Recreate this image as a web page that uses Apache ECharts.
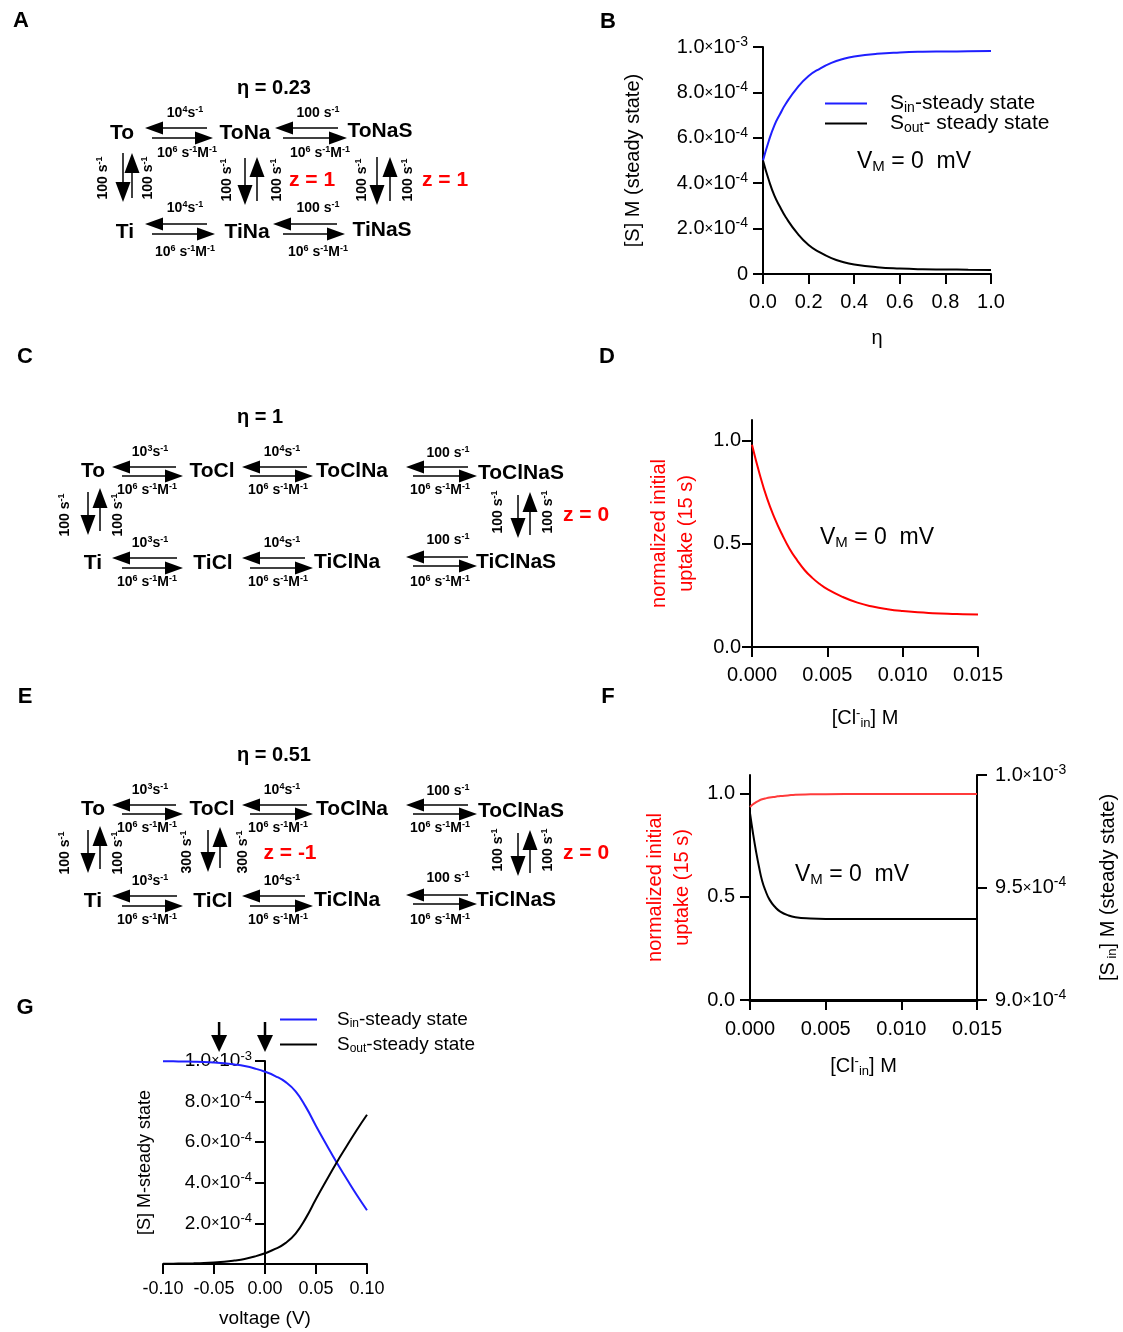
<!DOCTYPE html>
<html>
<head>
<meta charset="utf-8">
<script src="https://cdn.jsdelivr.net/npm/echarts@6/dist/echarts.min.js"></script>
<style>
  html, body { margin: 0; padding: 0; background: #fff; }
  #fig { width: 1123px; height: 1332px; }
</style>
</head>
<body>
<div id="fig"></div>
<script>
var FONT = '"Liberation Sans", Arial, Helvetica, sans-serif';

// ---- panel B : steady state [S] vs eta
var etaB = [0, 0.025, 0.05, 0.075, 0.1, 0.15, 0.2, 0.25, 0.3, 0.35, 0.4, 0.5, 0.6, 0.7, 0.8, 0.9, 1.0];
var sInB = [5.00e-4, 5.85e-4, 6.55e-4, 7.05e-4, 7.50e-4, 8.20e-4, 8.72e-4, 9.05e-4, 9.30e-4, 9.47e-4, 9.58e-4, 9.70e-4, 9.76e-4, 9.79e-4, 9.80e-4, 9.81e-4, 9.82e-4];
var sOutB = [5.00e-4, 4.15e-4, 3.45e-4, 2.95e-4, 2.50e-4, 1.80e-4, 1.28e-4, 0.95e-4, 0.70e-4, 0.53e-4, 0.42e-4, 0.30e-4, 0.24e-4, 0.21e-4, 0.20e-4, 0.19e-4, 0.18e-4];

// ---- panel D : normalized uptake vs [Cl-in]
var clD = [0, 0.0005, 0.001, 0.0015, 0.002, 0.0025, 0.003, 0.0035, 0.004, 0.0045, 0.005, 0.006, 0.007, 0.008, 0.009, 0.010, 0.011, 0.012, 0.013, 0.014, 0.015];
var uptakeD = [0.98, 0.84, 0.72, 0.625, 0.545, 0.475, 0.42, 0.372, 0.335, 0.305, 0.28, 0.243, 0.215, 0.196, 0.183, 0.174, 0.168, 0.164, 0.161, 0.159, 0.157];

// ---- panel F : uptake (left) and S_in (right) vs [Cl-in]
var clF = [0, 0.0002, 0.0004, 0.0006, 0.0008, 0.001, 0.0013, 0.0017, 0.002, 0.0025, 0.003, 0.004, 0.005, 0.0075, 0.01, 0.0125, 0.015];
var uptakeF = [0.937, 0.950, 0.960, 0.968, 0.974, 0.978, 0.983, 0.987, 0.990, 0.993, 0.996, 0.998, 0.999, 1.0, 1.0, 1.0, 1.0];
var sInF = [9.83e-4, 9.74e-4, 9.66e-4, 9.59e-4, 9.53e-4, 9.49e-4, 9.445e-4, 9.41e-4, 9.393e-4, 9.377e-4, 9.368e-4, 9.362e-4, 9.36e-4, 9.36e-4, 9.36e-4, 9.36e-4, 9.36e-4];

// ---- panel G : steady state [S] vs voltage
var voltG = [-0.10, -0.09, -0.08, -0.07, -0.06, -0.05, -0.04, -0.03, -0.02, -0.01, 0, 0.01, 0.02, 0.03, 0.04, 0.05, 0.06, 0.07, 0.08, 0.09, 0.10];
var sInG = [9.99e-4, 9.985e-4, 9.975e-4, 9.965e-4, 9.95e-4, 9.925e-4, 9.89e-4, 9.83e-4, 9.75e-4, 9.63e-4, 9.47e-4, 9.26e-4, 8.97e-4, 8.50e-4, 7.74e-4, 6.80e-4, 5.90e-4, 5.02e-4, 4.20e-4, 3.40e-4, 2.65e-4];
var sOutG = [0.01e-4, 0.015e-4, 0.025e-4, 0.035e-4, 0.05e-4, 0.075e-4, 0.11e-4, 0.17e-4, 0.25e-4, 0.37e-4, 0.53e-4, 0.74e-4, 1.03e-4, 1.50e-4, 2.26e-4, 3.20e-4, 4.10e-4, 4.98e-4, 5.80e-4, 6.60e-4, 7.35e-4];
var arrowVoltG = [-0.045, 0];

// rate constant labels
var R_K4 = '{n|10}{sup|4}{n|s}{sup|-1}';
var R_K3 = '{n|10}{sup|3}{n|s}{sup|-1}';
var R_100 = '{n|100 s}{sup|-1}';
var R_300 = '{n|300 s}{sup|-1}';
var R_ON = '{n|10}{sup|6}{n| s}{sup|-1}{n|M}{sup|-1}';
var RFS = 14;

function pairs(xs, ys) {
    return xs.map(function (x, i) { return [x, ys[i]]; });
}

// rich styles usable by both graphic (fill) and options (color)
function rs(fs, bold, color) {
    color = color || '#000';
    var w = bold ? 'bold' : 'normal';
    var sfs = Math.round(fs * 0.65);
    function st(size, pad) {
        var o = { fontSize: size, fontFamily: FONT, fontWeight: w, color: color, fill: color };
        if (pad) o.padding = pad;
        return o;
    }
    return {
        n: st(fs),
        sup: st(sfs, [0, 0, Math.round(fs * 0.5), 0]),
        sub: st(sfs, [Math.round(fs * 0.45), 0, 0, 0]),
        x: st(Math.round(fs * 0.75)),
        s: st(Math.round(fs * 0.7), [0, 0, Math.round(fs * 0.5), 0])
    };
}

// ---- graphic elements (schemes, annotations)
var g = [];

function T(x, y, text, fs, o) {
    o = o || {};
    var color = o.color || '#000';
    var bold = o.bold !== false;
    var al = o.align || 'center';
    g.push({
        type: 'text', x: x, y: y, rotation: o.rot || 0, silent: true,
        style: {
            text: text, rich: rs(fs, bold, color), fill: color,
            fontSize: fs, fontFamily: FONT, fontWeight: bold ? 'bold' : 'normal',
            align: al, textAlign: al, verticalAlign: 'middle', textVerticalAlign: 'middle'
        }
    });
}

function arrow(x1, y1, x2, y2, head, half, lw) {
    var dx = x2 - x1, dy = y2 - y1;
    var L = Math.sqrt(dx * dx + dy * dy), ux = dx / L, uy = dy / L;
    var bx = x2 - ux * head, by = y2 - uy * head;
    g.push({ type: 'line', silent: true, shape: { x1: x1, y1: y1, x2: bx + ux, y2: by + uy }, style: { stroke: '#000', lineWidth: lw || 1.5 } });
    g.push({
        type: 'polygon', silent: true,
        shape: { points: [[x2, y2], [bx - uy * half, by + ux * half], [bx + uy * half, by - ux * half]] },
        style: { fill: '#000' }
    });
}
function hL(xTail, xTip, y) { arrow(xTail, y, xTip, y, 18, 6.5); }
function vA(x, yTail, yTip) { arrow(x, yTail, x, yTip, 20, 7.5); }
function rot(x, y, s) { T(x, y, s, RFS, { rot: Math.PI / 2 }); }

// panel letters
T(21, 21, 'A', 22); T(608, 22, 'B', 22); T(25, 357, 'C', 22); T(607, 357, 'D', 22);
T(25, 697, 'E', 22); T(608, 697, 'F', 22); T(25, 1008, 'G', 22);

// ---- scheme A
T(237, 88, 'η = 0.23', 20, { align: 'left' });
T(122, 133, 'To', 21); T(245, 133, 'ToNa', 21); T(380, 131, 'ToNaS', 21);
T(125, 232, 'Ti', 21); T(247, 232, 'TiNa', 21); T(382, 230, 'TiNaS', 21);
hL(207, 145, 128); hL(152, 213, 138); hL(338, 275, 128); hL(283, 347, 138);
hL(207, 145, 224); hL(152, 215, 234); hL(337, 273, 224); hL(283, 345, 234);
T(185, 113, R_K4, RFS); T(187, 153, R_ON, RFS); T(318, 113, R_100, RFS); T(320, 153, R_ON, RFS);
T(185, 208, R_K4, RFS); T(185, 252, R_ON, RFS); T(318, 208, R_100, RFS); T(318, 252, R_ON, RFS);
vA(123, 153, 202); vA(132, 198, 153);
vA(245, 158, 205); vA(257, 201, 157);
vA(377, 157, 205); vA(390, 201, 157);
rot(103, 178, R_100); rot(148, 178, R_100);
rot(227, 180, R_100); rot(277, 180, R_100);
rot(362, 180, R_100); rot(408, 180, R_100);
T(312, 180, 'z = 1', 21, { color: '#ff0000' });
T(445, 180, 'z = 1', 21, { color: '#ff0000' });

// ---- schemes C and E (same layout, shifted)
function schemeCl(dy, etaText) {
    T(237, 417 + dy, etaText, 20, { align: 'left' });
    T(93, 471 + dy, 'To', 21); T(212, 471 + dy, 'ToCl', 21); T(352, 471 + dy, 'ToClNa', 21); T(521, 473 + dy, 'ToClNaS', 21);
    T(93, 563 + dy, 'Ti', 21); T(213, 563 + dy, 'TiCl', 21); T(347, 562 + dy, 'TiClNa', 21); T(516, 562 + dy, 'TiClNaS', 21);
    hL(176, 112, 467 + dy); hL(122, 183, 476 + dy);
    hL(307, 242, 467 + dy); hL(250, 313, 476 + dy);
    hL(468, 406, 467 + dy); hL(413, 477, 476 + dy);
    hL(177, 112, 558 + dy); hL(122, 183, 568 + dy);
    hL(305, 242, 558 + dy); hL(250, 313, 568 + dy);
    hL(468, 406, 557 + dy); hL(413, 477, 566 + dy);
    T(150, 452 + dy, R_K3, RFS); T(147, 490 + dy, R_ON, RFS);
    T(282, 452 + dy, R_K4, RFS); T(278, 490 + dy, R_ON, RFS);
    T(448, 453 + dy, R_100, RFS); T(440, 490 + dy, R_ON, RFS);
    T(150, 543 + dy, R_K3, RFS); T(147, 582 + dy, R_ON, RFS);
    T(282, 543 + dy, R_K4, RFS); T(278, 582 + dy, R_ON, RFS);
    T(448, 540 + dy, R_100, RFS); T(440, 582 + dy, R_ON, RFS);
    vA(88, 492 + dy, 535 + dy); vA(100, 531 + dy, 488 + dy);
    rot(65, 515 + dy, R_100); rot(118, 515 + dy, R_100);
    vA(518, 495 + dy, 538 + dy); vA(530, 535 + dy, 492 + dy);
    rot(498, 512 + dy, R_100); rot(548, 512 + dy, R_100);
    T(586, 515 + dy, 'z = 0', 21, { color: '#ff0000' });
}
schemeCl(0, 'η = 1');
schemeCl(338, 'η = 0.51');
vA(208, 830, 872); vA(220, 868, 827);
rot(187, 852, R_300); rot(243, 852, R_300);
T(290, 853, 'z = -1', 21, { color: '#ff0000' });

// ---- V_M annotations
var VM = '{n|V}{sub|M}{n| = 0  mV}';
T(857, 162, VM, 23, { bold: false, align: 'left' });
T(820, 538, VM, 23, { bold: false, align: 'left' });
T(795, 875, VM, 23, { bold: false, align: 'left' });

var chart = echarts.init(document.getElementById('fig'), null, { renderer: 'canvas' });

// ---- axes helpers
function aLine(w) { return { show: true, onZero: false, lineStyle: { color: '#000', width: w || 2 } }; }
function aTick(len) { return { show: true, length: len || 10, lineStyle: { color: '#000', width: 2 } }; }
function sci(zeroText) {
    return function (v) {
        if (Math.abs(v) < 1e-12) return zeroText;
        var e = Math.floor(Math.log10(v) + 1e-9);
        var m = v / Math.pow(10, e);
        return '{n|' + m.toFixed(1) + '}{x|×}{n|10}{s|' + e + '}';
    };
}
function nameStyle(fs, color, rich, lh) {
    var o = { fontSize: fs, color: color || '#000', fontFamily: FONT };
    if (rich) o.rich = rich;
    if (lh) o.lineHeight = lh;
    return o;
}
var CLNAME = '{n|[Cl}{sup|-}{sub|in}{n|] M}';

function legendItem(name, text, left, top, w, fs, pad) {
    var r = rs(fs, false, '#000');
    r.f = Object.assign({}, r.n, { padding: [0, 0, 0, pad] });
    return {
        show: true, orient: 'vertical', left: left, top: top, padding: 0,
        itemWidth: w, itemHeight: 2, icon: 'rect', selectedMode: false,
        data: [name],
        formatter: function () { return text; },
        textStyle: { rich: r, fontSize: fs, fontFamily: FONT }
    };
}

function curve(name, xi, yi, xs, ys, color) {
    return {
        type: 'line', name: name, xAxisIndex: xi, yAxisIndex: yi, data: pairs(xs, ys),
        showSymbol: false, symbol: 'none', smooth: 0.5,
        lineStyle: { color: color, width: 2 }, itemStyle: { color: color }
    };
}

var option = {
    animation: false,
    backgroundColor: '#fff',
    textStyle: { fontFamily: FONT },
    grid: [
        { left: 763, top: 47, width: 228, height: 227 },
        { left: 752, top: 420, width: 226, height: 227 },
        { left: 750, top: 775, width: 227, height: 225 },
        { left: 163, top: 1061, width: 204, height: 203 }
    ],
    xAxis: [
        {
            type: 'value', gridIndex: 0, min: 0, max: 1, interval: 0.2,
            axisLine: aLine(2), axisTick: aTick(10), splitLine: { show: false },
            axisLabel: { margin: 18, fontSize: 20, color: '#000', fontFamily: FONT, formatter: function (v) { return v.toFixed(1); } },
            name: 'η', nameLocation: 'middle', nameGap: 54, nameTextStyle: nameStyle(20)
        },
        {
            type: 'value', gridIndex: 1, min: 0, max: 0.015, interval: 0.005,
            axisLine: aLine(2), axisTick: aTick(10), splitLine: { show: false },
            axisLabel: { margin: 18, fontSize: 20, color: '#000', fontFamily: FONT, formatter: function (v) { return v.toFixed(3); } },
            name: CLNAME, nameLocation: 'middle', nameGap: 60, nameTextStyle: nameStyle(20, '#000', rs(20, false))
        },
        {
            type: 'value', gridIndex: 2, min: 0, max: 0.015, interval: 0.005,
            axisLine: aLine(3), axisTick: aTick(10), splitLine: { show: false },
            axisLabel: { margin: 19, fontSize: 20, color: '#000', fontFamily: FONT, formatter: function (v) { return v.toFixed(3); } },
            name: CLNAME, nameLocation: 'middle', nameGap: 55, nameTextStyle: nameStyle(20, '#000', rs(20, false))
        },
        {
            type: 'value', gridIndex: 3, min: -0.1, max: 0.1, interval: 0.05,
            axisLine: aLine(2), axisTick: aTick(10), splitLine: { show: false },
            axisLabel: { margin: 16, fontSize: 18, color: '#000', fontFamily: FONT, formatter: function (v) { return v.toFixed(2); } },
            name: 'voltage (V)', nameLocation: 'middle', nameGap: 45, nameTextStyle: nameStyle(19)
        }
    ],
    yAxis: [
        {
            type: 'value', gridIndex: 0, min: 0, max: 1e-3, interval: 2e-4,
            axisLine: aLine(2), axisTick: aTick(10), splitLine: { show: false },
            axisLabel: { margin: 15, color: '#000', formatter: sci('{n|0}'), rich: rs(20, false) },
            name: '[S] M (steady state)', nameLocation: 'middle', nameGap: 120, nameTextStyle: nameStyle(20)
        },
        {
            type: 'value', gridIndex: 1, min: 0, max: 1.1,
            axisLine: aLine(2),
            axisTick: { show: true, length: 10, lineStyle: { color: '#000', width: 2 }, customValues: [0, 0.5, 1] },
            splitLine: { show: false },
            axisLabel: { margin: 11, fontSize: 20, color: '#000', fontFamily: FONT, customValues: [0, 0.5, 1], formatter: function (v) { return v.toFixed(1); } },
            name: 'normalized initial\nuptake (15 s)', nameLocation: 'middle', nameGap: 52,
            nameTextStyle: nameStyle(20, '#ff0000', null, 27)
        },
        {
            type: 'value', gridIndex: 2, min: 0, max: 1.092,
            axisLine: aLine(2),
            axisTick: { show: true, length: 10, lineStyle: { color: '#000', width: 2 }, customValues: [0, 0.5, 1] },
            splitLine: { show: false },
            axisLabel: { margin: 15, fontSize: 20, color: '#000', fontFamily: FONT, customValues: [0, 0.5, 1], formatter: function (v) { return v.toFixed(1); } },
            name: 'normalized initial\nuptake (15 s)', nameLocation: 'middle', nameGap: 54,
            nameTextStyle: nameStyle(20, '#ff0000', null, 27)
        },
        {
            type: 'value', gridIndex: 2, position: 'right', min: 9e-4, max: 1e-3, interval: 5e-5,
            axisLine: aLine(2), axisTick: aTick(10), splitLine: { show: false },
            axisLabel: { margin: 18, color: '#000', formatter: sci('{n|0}'), rich: rs(20, false) },
            name: '{n|[S}{sub| in}{n|] M (steady state)}', nameLocation: 'middle', nameGap: 120,
            nameTextStyle: nameStyle(20, '#000', rs(20, false))
        },
        {
            // the V axis crosses at 0 V: shift the whole y axis there
            type: 'value', gridIndex: 3, min: 0, max: 1e-3, interval: 2e-4, offset: -102,
            axisLine: aLine(2), axisTick: aTick(10), splitLine: { show: false },
            axisLabel: { margin: 13, color: '#000', formatter: sci(''), rich: rs(19, false) },
            name: '[S] M-steady state', nameLocation: 'middle', nameGap: 111, nameTextStyle: nameStyle(18)
        }
    ],
    legend: [
        legendItem('inB', '{f|S}{sub|in}{n|-steady state}', 825, 93, 42, 21, 18),
        legendItem('outB', '{f|S}{sub|out}{n|- steady state}', 825, 113, 42, 21, 18),
        legendItem('inG', '{f|S}{sub|in}{n|-steady state}', 280, 1010, 37, 19, 15),
        legendItem('outG', '{f|S}{sub|out}{n|-steady state}', 280, 1035, 37, 19, 15)
    ],
    series: [
        curve('inB', 0, 0, etaB, sInB, '#1f1fff'),
        curve('outB', 0, 0, etaB, sOutB, '#000'),
        curve('uptakeD', 1, 1, clD, uptakeD, '#ff0000'),
        curve('uptakeF', 2, 2, clF, uptakeF, '#ff3b3b'),
        curve('sInF', 2, 3, clF, sInF, '#000'),
        curve('inG', 3, 4, voltG, sInG, '#1f1fff'),
        curve('outG', 3, 4, voltG, sOutG, '#000')
    ],
    graphic: { elements: g }
};

chart.setOption(option);

// arrows above panel G, placed through the x scale of grid 3
arrowVoltG.forEach(function (v) {
    var px = chart.convertToPixel({ xAxisIndex: 3 }, v);
    arrow(px, 1022, px, 1052, 17, 8, 2.5);
});
chart.setOption({ graphic: { elements: g } });
</script>
</body>
</html>
